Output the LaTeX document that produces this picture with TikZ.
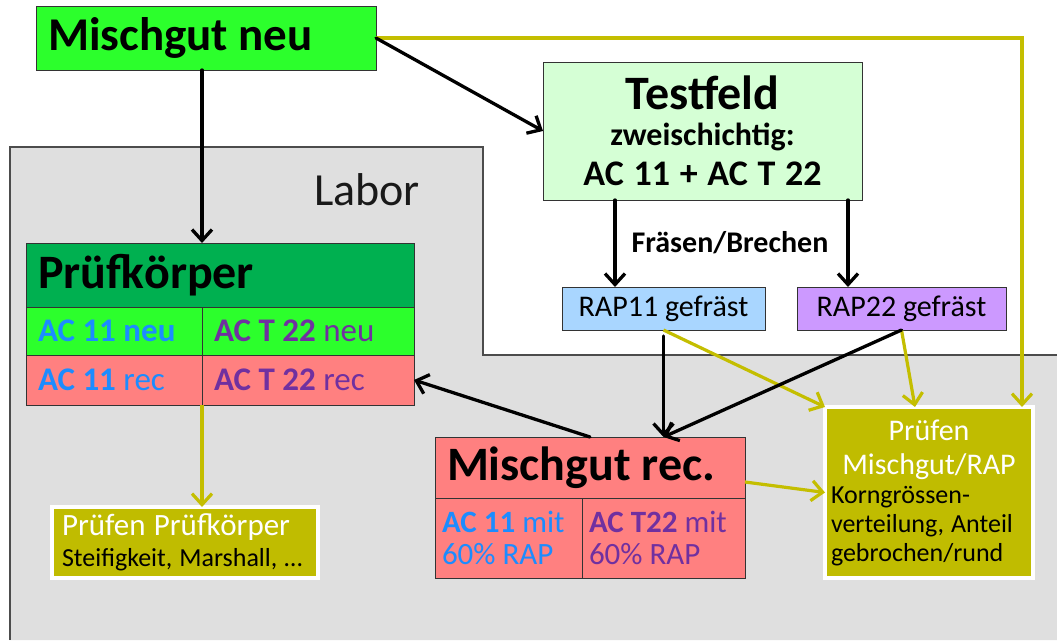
\documentclass[tikz,border=0pt]{standalone}
\usepackage{fontspec}
\setmainfont{Carlito}
\usetikzlibrary{arrows.meta,shadows,calc}
\setlength{\parindent}{0pt}
\definecolor{bgreen}{HTML}{2CFF2C}
\definecolor{dgreen}{HTML}{00B050}
\definecolor{lgreen}{HTML}{D5FFD5}
\definecolor{salmon}{HTML}{FF8080}
\definecolor{lblue}{HTML}{A9D6FF}
\definecolor{lilac}{HTML}{CC99FF}
\definecolor{olivey}{HTML}{C0BC00}
\definecolor{olivel}{HTML}{C4BE00}
\definecolor{labgray}{HTML}{DFDFDF}
\definecolor{tblue}{HTML}{1C8CFF}
\definecolor{tpurple}{HTML}{7030A0}
\newcommand{\fsz}[2]{\fontsize{#1}{#2}\selectfont}
\newcommand{\wsp}{\spaceskip=.27em plus .1em\relax}
\tikzset{
  box/.style={draw=black!80, line width=1pt, anchor=north west, inner sep=0pt, outer sep=0pt},
  lbox/.style={box, align=flush left, inner xsep=12pt},
  pbox/.style={draw=white, line width=3.5pt, fill=olivey, anchor=north west, inner sep=0pt, outer sep=0pt,
    drop shadow={shadow xshift=1.5pt, shadow yshift=-2pt, opacity=0.35}},
  blk/.style={draw=black, line width=3.3pt, line cap=round, -{Straight Barb[length=11pt,width=20pt]}},
  olv/.style={draw=olivel, line width=3.2pt, -{Straight Barb[length=11pt,width=20pt]}}
}
\begin{document}
\begin{tikzpicture}[x=1pt,y=-1pt]
\useasboundingbox (0,0) rectangle (1057,640);
\fill[white] (0,0) rectangle (1057,640);
% Labor region
\fill[labgray] (10,147) -- (483,147) -- (483,355) -- (1057,355) -- (1057,640) -- (10,640) -- cycle;
\draw[draw=black!70, line width=2pt] (10,640) -- (10,147) -- (483,147) -- (483,355) -- (1057,355);
\node[font=\fsz{46}{50}, text=black!90] (labor) at (367,190) {Labor};

% boxes
\node[lbox, fill=bgreen, minimum width=340pt, minimum height=64pt, text width=316pt,
      font=\bfseries\fsz{47}{50}] (mneu) at (36,6) {Mischgut neu};
\node[box, fill=lgreen, minimum width=319pt, minimum height=138pt, text width=305pt, inner xsep=7pt, font=\bfseries]
      (test) at (543,62) {{\centering\fsz{48}{48}Testfeld\par \fsz{32}{36}zweischichtig:\par \fsz{36}{40}\wsp AC 11 + AC T 22\par}};
\node[font=\bfseries\fsz{30}{34}] (fb) at (730,243) {Fräsen/Brechen};
\node[box, fill=lblue, minimum width=203pt, minimum height=43pt, font=\fsz{30}{32}] (rap11) at (562,287) {RAP11 gefräst};
\node[box, fill=lilac, minimum width=209pt, minimum height=43pt, font=\fsz{30}{32}] (rap22) at (797,287) {RAP22 gefräst};

% Pruefkoerper table
\node[lbox, fill=dgreen, minimum width=388pt, minimum height=64pt, text width=364pt,
      font=\bfseries\fsz{48}{50}] (pk) at (26,243) {Prüfkörper};
\node[lbox, fill=bgreen, minimum width=176pt, minimum height=48pt, text width=152pt,
      font=\fsz{33}{36}, text=tblue] (pk11n) at (26,307) {\textbf{AC 11 neu}};
\node[lbox, fill=bgreen, minimum width=212pt, minimum height=48pt, text width=188pt,
      font=\fsz{33}{36}, text=tpurple] (pk22n) at (202,307) {\textbf{AC T 22} neu};
\node[lbox, fill=salmon, minimum width=176pt, minimum height=50pt, text width=152pt,
      font=\fsz{33}{36}, text=tblue] (pk11r) at (26,355) {\textbf{AC 11} rec};
\node[lbox, fill=salmon, minimum width=212pt, minimum height=50pt, text width=188pt,
      font=\fsz{33}{36}, text=tpurple] (pk22r) at (202,355) {\textbf{AC T 22} rec};

% Mischgut rec table
\node[lbox, fill=salmon, minimum width=310pt, minimum height=61pt, text width=286pt,
      font=\bfseries\fsz{48}{50}] (mrec) at (435,437) {Mischgut rec.};
\node[lbox, fill=salmon, minimum width=147pt, minimum height=80pt, text width=133pt, inner xsep=7pt,
      font=\fsz{31}{32}, text=tblue] (mr11) at (435,498) {\textbf{AC 11} mit\\60\% RAP};
\node[lbox, fill=salmon, minimum width=163pt, minimum height=80pt, text width=149pt, inner xsep=7pt,
      font=\fsz{31}{32}, text=tpurple] (mr22) at (582,498) {\textbf{AC T22} mit\\60\% RAP};

% Pruefen boxes
\node[pbox, minimum width=266pt, minimum height=71pt, text width=246pt, inner xsep=10pt]
      (ppk) at (52,507) {{\raggedright\color{white}\fsz{31}{30}\wsp Prüfen Prüfkörper\par}
      {\raggedright\fsz{26}{31}\wsp Steifigkeit, Marshall, \dots\par}};
\node[pbox, minimum width=208pt, minimum height=171pt, text width=196pt, inner xsep=6pt]
      (pmr) at (825,407) {{\centering\color{white}\fsz{30}{34}Prüfen\\Mischgut/RAP\par}
      {\raggedright\fsz{26}{29}\wsp Korngrössen-\\verteilung, Anteil\\gebrochen/rund\par}};

% olive connectors
\coordinate (pc) at ($(pmr.north east)+(-11,0)$);
\draw[olv] (mneu.east) -- (mneu.east -| pc) -- (pc);
\draw[olv] (rap11.south) -- (pmr.north west);
\draw[olv] (rap22.south) -- ($(pmr.north west)+(90,0)$);
\draw[olv] ($(mrec.south east)+(0,-16)$) -- (pmr.west);
\draw[olv] (pk11r.south east) -- (pk11r.south east |- ppk.north);

% black connectors
\draw[blk] (mneu.south -| pk11n.north east) -- (pk.north -| pk11n.north east);
\draw[blk] (mneu.east) -- (test.west);
\coordinate (t1) at ($(test.south west)+(72,0)$);
\coordinate (t2) at ($(test.south east)+(-14,0)$);
\draw[blk] (t1) -- (t1 |- rap11.north);
\draw[blk] (t2) -- (t2 |- rap22.north);
\coordinate (mrin) at (rap11.south |- mrec.north);
\draw[blk, shorten <=6pt] (rap11.south) -- (mrin);
\draw[blk] (rap22.south) -- (mrin);
\draw[blk] (mrec.north) -- (pk22r.east);
\end{tikzpicture}
\end{document}
